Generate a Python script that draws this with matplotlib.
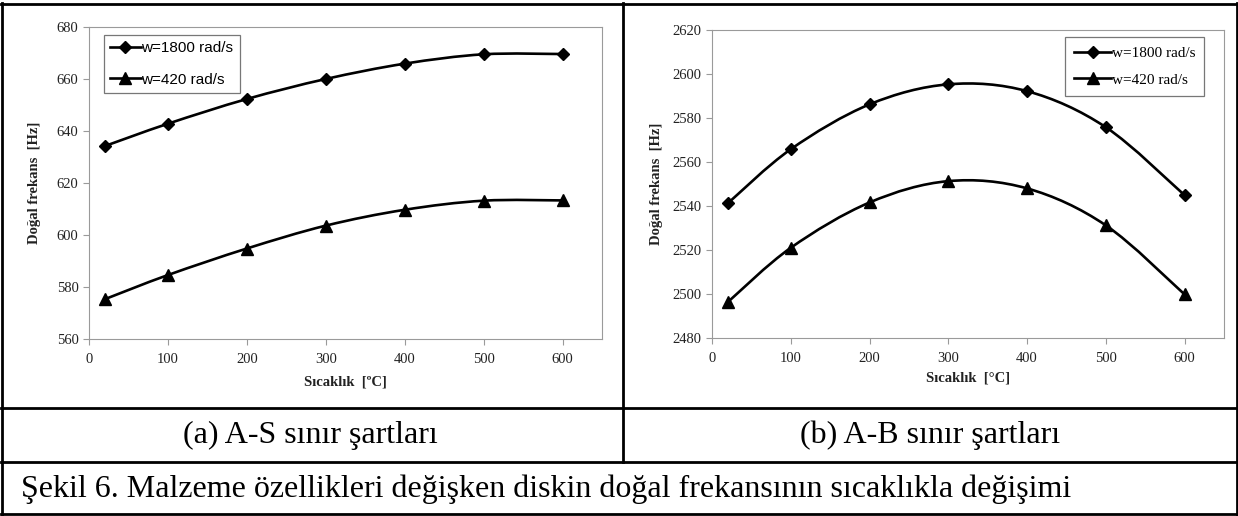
import numpy as np
import matplotlib.pyplot as plt
from matplotlib.path import Path
from matplotlib.patches import PathPatch
from matplotlib.lines import Line2D

# sicaklik (C) ve dogal frekans (Hz) degerleri
temps = [20, 100, 200, 300, 400, 500, 600]
as_w1800 = [634.2, 642.8, 652.3, 660.0, 665.9, 669.5, 669.6]
as_w420 = [575.3, 584.6, 594.8, 603.6, 609.7, 613.2, 613.3]
ab_w1800 = [2541.2, 2565.8, 2586.2, 2595.3, 2592.2, 2575.8, 2544.9]
ab_w420 = [2496.3, 2521.0, 2541.6, 2551.3, 2548.0, 2531.2, 2499.8]
labels = ['w=1800 rad/s', 'w=420 rad/s']
captions = ['(a) A-S sınır şartları', '(b) A-B sınır şartları']
fig_caption = 'Şekil 6. Malzeme özellikleri değişken diskin doğal frekansının sıcaklıkla değişimi'

W, H = 1238, 516
SERIF = 'Liberation Serif'
GRAY = '#9a9a9a'


def smooth_path(x, y):
    # excel-style smoothed line (bezier through the points)
    pts = np.column_stack([x, y]).astype(float)
    n = len(pts)
    verts = [pts[0]]
    codes = [Path.MOVETO]
    for i in range(n - 1):
        p0 = pts[i - 1] if i > 0 else pts[i]
        p1, p2 = pts[i], pts[i + 1]
        p3 = pts[i + 2] if i + 2 < n else pts[i + 1]
        verts += [p1 + (p2 - p0) / 6, p2 - (p3 - p1) / 6, p2]
        codes += [Path.CURVE4] * 3
    return Path(verts, codes)


def px_axes(fig, x0, y0, x1, y1):
    return fig.add_axes([x0 / W, 1 - y1 / H, (x1 - x0) / W, (y1 - y0) / H])


def draw_panel(ax, s1, s2, ylim, xunit, legend_pos, legend_kw):
    for ys, mk, ms in [(s1, 'D', 6), (s2, '^', 8.5)]:
        ax.add_patch(PathPatch(smooth_path(temps, ys), fill=False,
                               edgecolor='black', lw=1.9))
        ax.plot(temps, ys, linestyle='none', marker=mk, ms=ms, color='black')
    ax.set_xlim(0, 650)
    ax.set_ylim(*ylim)
    ax.set_xticks(range(0, 601, 100))
    ax.set_yticks(range(ylim[0], ylim[1] + 1, 20))
    for s in ax.spines.values():
        s.set_color(GRAY)
        s.set_linewidth(0.8)
    ax.tick_params(colors=GRAY, labelcolor='#222222', length=4, width=0.8,
                   labelsize=10.5)
    ax.tick_params(axis='x', pad=6)
    for t in ax.get_xticklabels() + ax.get_yticklabels():
        t.set_family(SERIF)
    ax.set_xlabel('Sıcaklık  [' + xunit + 'C]', family=SERIF,
                  fontweight='bold', fontsize=10.5, color='#222222')
    ax.set_ylabel('Doğal frekans  [Hz]', family=SERIF, fontweight='bold',
                  fontsize=10.5, color='#222222')
    handles = [Line2D([], [], color='black', lw=1.9, marker='D', ms=6),
               Line2D([], [], color='black', lw=1.9, marker='^', ms=8.5)]
    leg = ax.legend(handles, labels, loc='upper left',
                    bbox_to_anchor=(legend_pos[0] / W, 1 - legend_pos[1] / H),
                    bbox_transform=fig.transFigure, borderaxespad=0,
                    fancybox=False, framealpha=1, edgecolor='#777777',
                    handletextpad=0.05, **legend_kw)
    leg.get_frame().set_linewidth(0.9)


fig = plt.figure(figsize=(W / 100, H / 100), dpi=100)

ax1 = px_axes(fig, 89, 27, 602, 339)
draw_panel(ax1, as_w1800, as_w420, (560, 680), 'º', (104, 35),
           dict(prop={'family': 'Liberation Sans', 'size': 11},
                handlelength=2.0, labelspacing=1.15, borderpad=0.4))
ax1.yaxis.set_label_coords(-48 / 513, 0.5)
ax1.xaxis.set_label_coords(0.5, -36 / 312)

ax2 = px_axes(fig, 712, 30, 1224, 338)
draw_panel(ax2, ab_w1800, ab_w420, (2480, 2620), '°', (1065, 37),
           dict(prop={'family': SERIF, 'size': 11},
                handlelength=2.4, labelspacing=0.85, borderpad=0.6))
ax2.yaxis.set_label_coords(-49 / 512, 0.5)
ax2.xaxis.set_label_coords(0.5, -33 / 308)


# table borders around the two panels
def hline(y, x0, x1):
    fig.add_artist(Line2D([x0 / W, x1 / W], [1 - y / H, 1 - y / H],
                          transform=fig.transFigure, color='black', lw=2))


def vline(x, y0, y1):
    fig.add_artist(Line2D([x / W, x / W], [1 - y0 / H, 1 - y1 / H],
                          transform=fig.transFigure, color='black', lw=2))


hline(3.5, 1, 1237)
hline(408, 1, 1237)
hline(462, 1, 1237)
hline(514, 1, 1237)
vline(1.5, 3, 515)
vline(1236.5, 3, 515)
vline(623, 3, 462)

fig.text(310 / W, 1 - 435 / H, captions[0], ha='center', va='center',
         family=SERIF, fontsize=23)
fig.text(930 / W, 1 - 435 / H, captions[1], ha='center', va='center',
         family=SERIF, fontsize=23)
fig.text(21 / W, 1 - 489 / H, fig_caption, ha='left', va='center',
         family=SERIF, fontsize=23)

fig.savefig('out.png', dpi=100)
